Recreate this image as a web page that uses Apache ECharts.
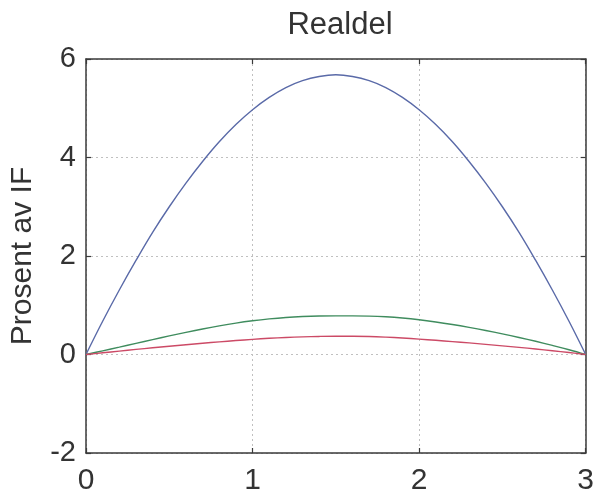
<!DOCTYPE html>
<html>
<head>
<meta charset="utf-8">
<script src="https://cdn.jsdelivr.net/npm/echarts@6/dist/echarts.min.js"></script>
<style>html,body{margin:0;padding:0;background:#fff}#c{width:597px;height:500px}</style>
</head>
<body>
<div id="c"></div>
<script>
var xValues = [0,0.1,0.2,0.3,0.4,0.5,0.6,0.7,0.8,0.9,1.0,1.1,1.2,1.3,1.4,1.5,1.6,1.7,1.8,1.9,2.0,2.1,2.2,2.3,2.4,2.5,2.6,2.7,2.8,2.9,3.0];
var blueValues = [0,0.675,1.31,1.91,2.48,3.0,3.48,3.92,4.32,4.67,4.97,5.22,5.42,5.56,5.645,5.68,5.645,5.56,5.42,5.22,4.97,4.67,4.32,3.92,3.48,3.0,2.48,1.91,1.31,0.675,0];
var greenValues = [0,0.074,0.149,0.226,0.302,0.377,0.45,0.519,0.582,0.638,0.685,0.723,0.752,0.771,0.782,0.785,0.785,0.78,0.765,0.74,0.705,0.66,0.608,0.55,0.487,0.419,0.346,0.268,0.185,0.097,0];
var redValues = [0,0.035,0.069,0.103,0.136,0.167,0.198,0.228,0.257,0.283,0.307,0.329,0.346,0.358,0.367,0.371,0.37,0.365,0.352,0.334,0.312,0.288,0.262,0.235,0.206,0.176,0.145,0.112,0.077,0.04,0];
var xTicks = [0,1,2,3];
var yTicks = [-2,0,2,4,6];

function pairs(v){ return xValues.map(function(x,i){ return [x, v[i]]; }); }

var chart = echarts.init(document.getElementById('c'), null, {renderer:'canvas'});
var font = 'Liberation Sans, Arial, sans-serif';
var axisLine = {show:true, onZero:false, lineStyle:{color:'#3a3a3a', width:1.5}};
var tick = {show:true, inside:true, length:5, lineStyle:{color:'#3a3a3a', width:1.2}};
var grid = {show:true, lineStyle:{color:'#c0c0c0', type:[2,3], width:1}};
chart.setOption({
  animation:false,
  backgroundColor:'#ffffff',
  title:{text:'Realdel', left:335, textAlign:'center', top:5,
         textStyle:{fontFamily:font, fontSize:31, fontWeight:'normal', color:'#333'}},
  grid:{left:84, right:11, top:59, bottom:47},
  xAxis:[
    {type:'value', min:xTicks[0], max:xTicks[xTicks.length-1], interval:1, position:'bottom',
     axisLine:axisLine, axisTick:tick, splitLine:grid,
     axisLabel:{fontFamily:font, fontSize:30, color:'#333', margin:13}},
    {type:'value', min:xTicks[0], max:xTicks[xTicks.length-1], interval:1, position:'top',
     axisLine:axisLine, axisTick:tick, splitLine:{show:false}, axisLabel:{show:false}}
  ],
  yAxis:[
    {type:'value', min:yTicks[0], max:yTicks[yTicks.length-1], interval:2, position:'left',
     name:'Prosent av IF', nameLocation:'middle', nameGap:48,
     nameTextStyle:{fontFamily:font, fontSize:30, color:'#333'},
     axisLine:axisLine, axisTick:tick, splitLine:grid,
     axisLabel:{fontFamily:font, fontSize:29, color:'#333', margin:10}},
    {type:'value', min:yTicks[0], max:yTicks[yTicks.length-1], interval:2, position:'right',
     axisLine:axisLine, axisTick:tick, splitLine:{show:false}, axisLabel:{show:false}}
  ],
  series:[
    {type:'line', data:pairs(blueValues), smooth:0.4, showSymbol:false, lineStyle:{color:'#5a6aa8', width:1.4}},
    {type:'line', data:pairs(greenValues), smooth:0.4, showSymbol:false, lineStyle:{color:'#3f8c5e', width:1.4}},
    {type:'line', data:pairs(redValues), smooth:0.4, showSymbol:false, lineStyle:{color:'#cc4a66', width:1.4}}
  ]
});
</script>
</body>
</html>
